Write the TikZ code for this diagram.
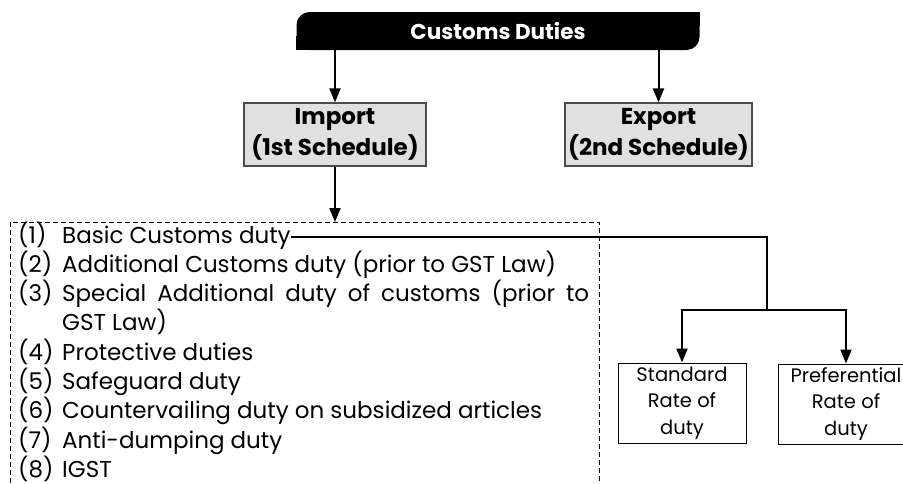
\documentclass[tikz,border=0pt]{standalone}
\usepackage{fontspec}
\setmainfont{Poppins}
\usetikzlibrary{arrows.meta}
\tikzset{
  heading/.style={fill=black, text=white, font=\bfseries\fontsize{21.5}{24}\selectfont,
    minimum width=403pt, minimum height=38pt, rounded corners=13pt},
  schedule/.style={draw=black!70, fill=black!12, line width=1.2pt, align=center,
    font=\bfseries\fontsize{23}{31.5}\selectfont, minimum height=63pt, inner sep=0pt},
  rate/.style={draw, line width=1pt, align=center, inner sep=0pt,
    font=\fontsize{19.5}{26.5}\selectfont, minimum width=128pt, minimum height=80pt},
  item/.style={anchor=base west, inner sep=0pt, font=\fontsize{23}{28}\selectfont},
  listframe/.style={line width=0.8pt, dash pattern=on 5pt off 3pt},
  link/.style={line width=2pt},
  arrow/.style={line width=2pt, -{Triangle[length=14pt,width=11pt]}},
}
\begin{document}
\begin{tikzpicture}[x=1pt, y=-1pt]
  \useasboundingbox (0,0) rectangle (903,483);
  % top of the tree
  \node[heading] (duties) at (498,31) {Customs Duties};
  \fill (duties.north east) rectangle ++(-14,14);
  \fill (duties.south west) rectangle ++(14,-14);
  \node[schedule, minimum width=182pt] (import) at (335,134.5) {Import\\(1st Schedule)};
  \node[schedule, minimum width=187pt] (export) at (658.5,134.5) {Export\\(2nd Schedule)};
  \draw[arrow] (duties.south -| import) -- (import.north);
  \draw[arrow] (duties.south -| export) -- (export.north);
  % list of duties on import
  \coordinate (listtop) at (335,222);
  \draw[arrow] (import.south) -- (listtop);
  \draw[listframe] (10,483) -- (10,222) -- (599,222) -- (599,483);
  \foreach \k/\y/\txt in {1/243/{Basic Customs duty},
      2/272.3/{Additional Customs duty (prior to GST Law)},
      3/301.6/{\makebox[527pt][s]{Special Additional duty of customs (prior to}},
      4/360.2/{Protective duties},
      5/389.5/{Safeguard duty},
      6/418.8/{Countervailing duty on subsidized articles},
      7/448.1/{Anti-dumping duty},
      8/477.2/{IGST}}
    {
      \node[item] (num\k) at (18,\y) {(\k)};
      \node[item] (item\k) at (62,\y) {\txt};
    }
  \node[item] (item3b) at (62,330.9) {GST Law)};
  % rates of basic customs duty
  \coordinate (split) at (767,310);
  \draw[link] (item1.east) -| (split);
  \node[rate] (standard) at (682,403) {Standard\\Rate of\\duty};
  \node[rate, minimum width=136pt] (preferential) at (846,404) {Preferential\\Rate of\\duty};
  \draw[arrow] (split) -| (standard.north);
  \draw[arrow] (split) -| (preferential.north);
\end{tikzpicture}
\end{document}
